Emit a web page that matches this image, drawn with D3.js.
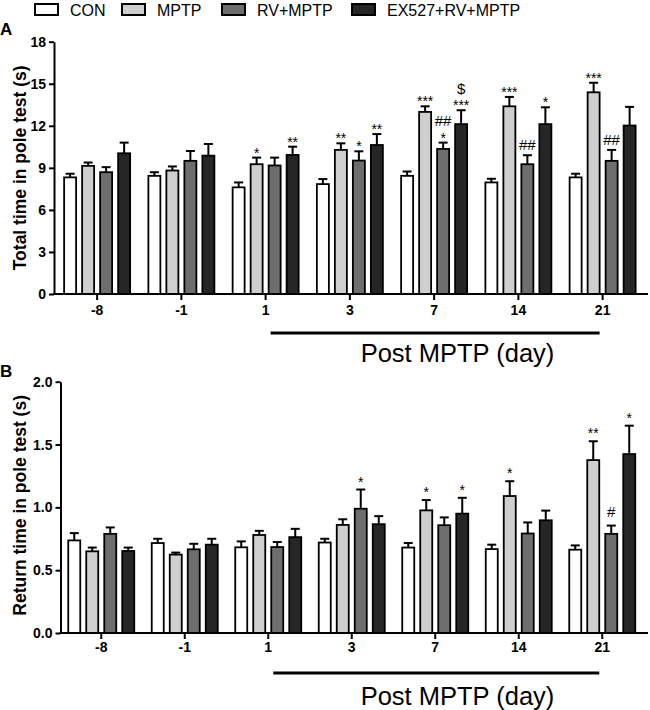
<!DOCTYPE html>
<html><head><meta charset="utf-8">
<script src="https://cdn.jsdelivr.net/npm/d3@7"></script>
<style>body{margin:0;background:#fff} svg{display:block} text{fill:#000;-webkit-font-smoothing:antialiased}</style>
</head><body>
<svg id="c" width="650" height="710"></svg>
<script>
// ---------- data ----------
const days = ["-8","-1","1","3","7","14","21"];
const groups = ["CON","MPTP","RV+MPTP","EX527+RV+MPTP"];
const fills = ["#ffffff","#cfcfcf","#6e6e6e","#262626"];

// Panel A: Total time in pole test (s) — mean and SEM
const totalCON      = [8.32, 8.43, 7.61, 7.84, 8.43, 7.96, 8.32];
const totalCONsem   = [0.26, 0.26, 0.35, 0.36, 0.31, 0.26, 0.26];
const totalMPTP     = [9.14, 8.81, 9.26, 10.28, 12.99, 13.39, 14.39];
const totalMPTPsem  = [0.24, 0.29, 0.47, 0.47, 0.40, 0.67, 0.68];
const totalRV       = [8.69, 9.50, 9.17, 9.52, 10.35, 9.26, 9.50];
const totalRVsem    = [0.36, 0.70, 0.56, 0.66, 0.45, 0.64, 0.78];
const totalEX       = [10.04, 9.87, 9.92, 10.63, 12.12, 12.12, 12.02];
const totalEXsem    = [0.76, 0.83, 0.59, 0.78, 0.99, 1.20, 1.33];

// Panel B: Return time in pole test (s) — mean and SEM
const returnCON     = [0.737, 0.716, 0.682, 0.720, 0.680, 0.668, 0.663];
const returnCONsem  = [0.058, 0.034, 0.047, 0.030, 0.036, 0.035, 0.034];
const returnMPTP    = [0.650, 0.624, 0.780, 0.860, 0.976, 1.090, 1.376];
const returnMPTPsem = [0.030, 0.016, 0.033, 0.045, 0.082, 0.118, 0.150];
const returnRV      = [0.789, 0.666, 0.684, 0.989, 0.858, 0.792, 0.789];
const returnRVsem   = [0.051, 0.044, 0.040, 0.153, 0.062, 0.088, 0.066];
const returnEX      = [0.653, 0.703, 0.763, 0.866, 0.950, 0.897, 1.424];
const returnEXsem   = [0.027, 0.047, 0.066, 0.064, 0.126, 0.077, 0.226];

const ticksA = [0, 3, 6, 9, 12, 15, 18];
const ticksB = [0, 0.5, 1.0, 1.5, 2.0];

// significance marks: [day, group index, label] (stacked upward in order)
const marksA = [["1",1,"*"],["1",3,"**"],["3",1,"**"],["3",2,"*"],["3",3,"**"],
  ["7",1,"***"],["7",2,"*"],["7",2,"##"],["7",3,"***"],["7",3,"$"],
  ["14",1,"***"],["14",2,"##"],["14",3,"*"],["21",1,"***"],["21",2,"##"]];
const marksB = [["3",2,"*"],["7",1,"*"],["7",3,"*"],["14",1,"*"],
  ["21",1,"**"],["21",2,"#"],["21",3,"*"]];

const postLabel = "Post MPTP (day)";

// ---------- drawing ----------
const FONT = "'Liberation Sans', Arial, Helvetica, sans-serif";
const svg = d3.select("#c").style("font-family", FONT);

function panel(cfg) {
  const g = svg.append("g");
  const x = d3.scaleBand().domain(days).range(cfg.xr).padding(0);
  const inner = d3.scaleBand().domain(groups).range([-33, 33]).paddingInner(1/3);
  const y = d3.scaleLinear().domain([0, cfg.ymax]).range(cfg.yr);
  const cx = d => x(d) + x.bandwidth() / 2;

  const rows = [];
  cfg.series.forEach((s, gi) => {
    s.mean.forEach((m, di) => rows.push({day: days[di], gi, m, e: s.sem[di]}));
  });

  // bars
  g.selectAll("rect.bar").data(rows).join("rect")
    .attr("x", d => cx(d.day) + inner(groups[d.gi]))
    .attr("y", d => y(d.m))
    .attr("width", inner.bandwidth())
    .attr("height", d => y(0) - y(d.m))
    .attr("fill", d => fills[d.gi])
    .attr("stroke", "#000").attr("stroke-width", 1.8);

  // error bars (upper)
  const eb = g.selectAll("g.eb").data(rows).join("g")
    .attr("stroke", "#000").attr("stroke-width", 2);
  eb.append("line")
    .attr("x1", d => cx(d.day) + inner(groups[d.gi]) + inner.bandwidth()/2)
    .attr("x2", d => cx(d.day) + inner(groups[d.gi]) + inner.bandwidth()/2)
    .attr("y1", d => y(d.m)).attr("y2", d => y(d.m + d.e));
  eb.append("line")
    .attr("x1", d => cx(d.day) + inner(groups[d.gi]) + inner.bandwidth()/2 - 4.5)
    .attr("x2", d => cx(d.day) + inner(groups[d.gi]) + inner.bandwidth()/2 + 4.5)
    .attr("y1", d => y(d.m + d.e)).attr("y2", d => y(d.m + d.e));

  // significance marks
  const cursors = {};
  cfg.marks.forEach(([day, gi, lab]) => {
    const di = days.indexOf(day);
    const s = cfg.series[gi];
    const key = day + "_" + gi;
    if (cursors[key] === undefined) cursors[key] = y(s.mean[di] + s.sem[di]) - cfg.markGap;
    const isAst = lab[0] === "*";
    const bx = cx(day) + inner(groups[gi]) + inner.bandwidth()/2;
    let center, base;
    if (isAst) {
      center = cursors[key] - 4;
      base = center + 8;
      cursors[key] -= 11;
    } else {
      center = cursors[key] - 6.5;
      base = center + 5.3;
      cursors[key] -= 14;
    }
    g.append("text").attr("x", bx).attr("y", base)
      .attr("text-anchor", "middle").attr("fill", "#000")
      .attr("font-size", isAst ? 14 : 15)
      .text(lab);
  });

  // y axis
  const ya = g.append("g").attr("transform", `translate(${cfg.axisX},0)`)
    .call(d3.axisLeft(y).tickValues(cfg.ticks).tickFormat(cfg.fmt).tickSize(5).tickSizeOuter(0).tickPadding(3));
  ya.select(".domain").attr("stroke-width", 2);
  ya.selectAll(".tick line").attr("stroke-width", 2);
  ya.selectAll("text").attr("font-size", 14).attr("font-weight", "bold")
    .attr("font-family", FONT).attr("fill", "#000");

  // x axis
  const xa = g.append("g").attr("transform", `translate(0,${y(0)})`)
    .call(d3.axisBottom(x).tickSize(6).tickSizeOuter(0).tickPadding(cfg.xpad));
  xa.select(".domain").remove();
  xa.selectAll(".tick line").attr("stroke-width", 2);
  xa.selectAll("text").attr("font-size", 14).attr("font-weight", "bold")
    .attr("font-family", FONT).attr("fill", "#000");
  g.append("line").attr("x1", cfg.axisX - 1).attr("x2", 648)
    .attr("y1", y(0)).attr("y2", y(0)).attr("stroke", "#000").attr("stroke-width", 2);

  // y title
  g.append("text")
    .attr("transform", `translate(${cfg.titleX},${(y(0)+y(cfg.ymax))/2 + cfg.titleDy}) rotate(-90)`)
    .attr("text-anchor", "middle").attr("font-weight", "bold").attr("font-size", 17.5)
    .text(cfg.title);

  // panel letter
  g.append("text").attr("x", 0).attr("y", cfg.letterY)
    .attr("font-weight", "bold").attr("font-size", 17).text(cfg.letter);

  // post MPTP bracket
  g.append("line")
    .attr("x1", cx("1") + 5).attr("x2", cx("21") - 3)
    .attr("y1", cfg.postY).attr("y2", cfg.postY)
    .attr("stroke", "#000").attr("stroke-width", 3);
  g.append("text").attr("x", 457.5).attr("y", cfg.postTextY)
    .attr("text-anchor", "middle").attr("font-size", 25.5).text(postLabel);
}

panel({
  xr: [55, 644.75], yr: [294, 41.7], ymax: 18, ticks: ticksA, fmt: d3.format("d"),
  axisX: 54, xpad: 5,
  series: [{mean: totalCON, sem: totalCONsem}, {mean: totalMPTP, sem: totalMPTPsem},
           {mean: totalRV, sem: totalRVsem}, {mean: totalEX, sem: totalEXsem}],
  marks: marksA, markGap: 4,
  title: "Total time in pole test (s)", titleX: 26, titleDy: 0,
  letter: "A", letterY: 35, postY: 333, postTextY: 361.5
});

panel({
  xr: [59.5, 644], yr: [633, 381.7], ymax: 2, ticks: ticksB, fmt: d3.format(".1f"),
  axisX: 60.5, xpad: 3.5,
  series: [{mean: returnCON, sem: returnCONsem}, {mean: returnMPTP, sem: returnMPTPsem},
           {mean: returnRV, sem: returnRVsem}, {mean: returnEX, sem: returnEXsem}],
  marks: marksB, markGap: 7,
  title: "Return time in pole test (s)", titleX: 26, titleDy: -2,
  letter: "B", letterY: 377, postY: 673, postTextY: 705
});

// legend
const legX = [35, 122, 222, 352];
const leg = svg.append("g");
groups.forEach((name, i) => {
  leg.append("rect").attr("x", legX[i]).attr("y", 4).attr("width", 23).attr("height", 11)
    .attr("fill", fills[i]).attr("stroke", "#000").attr("stroke-width", 2);
  leg.append("text").attr("x", legX[i] + 35).attr("y", 15.5)
    .attr("font-size", 16).text(name);
});
</script>
</body></html>
